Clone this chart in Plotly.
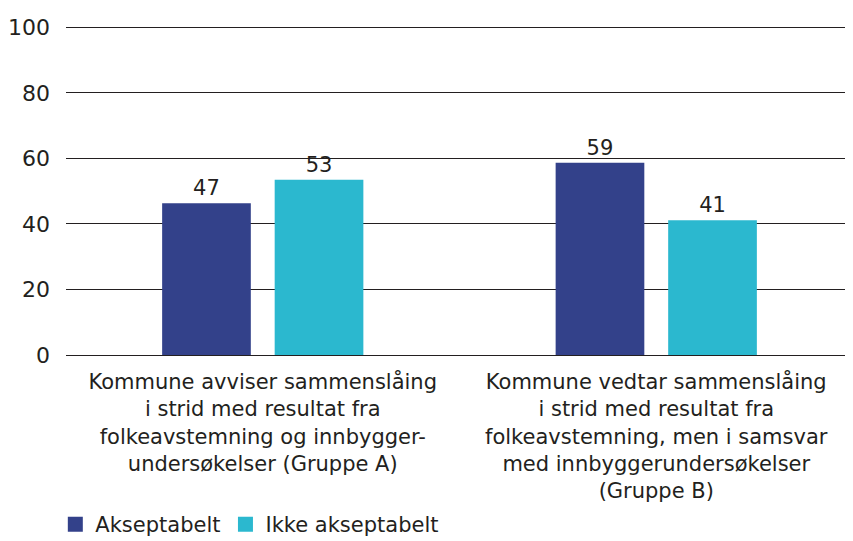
import plotly.graph_objects as go

categories = [
    "Kommune avviser sammenslåing<br>i strid med resultat fra<br>folkeavstemning og innbygger-<br>undersøkelser (Gruppe A)",
    "Kommune vedtar sammenslåing<br>i strid med resultat fra<br>folkeavstemning, men i samsvar<br>med innbyggerundersøkelser<br>(Gruppe B)",
]
series_names = ["Akseptabelt", "Ikke akseptabelt"]
akseptabelt = [46.3, 58.7]
ikke_akseptabelt = [53.5, 41.1]
akseptabelt_labels = ["47", "59"]
ikke_akseptabelt_labels = ["53", "41"]
y_ticks = [0, 20, 40, 60, 80, 100]

colors = ["#33418A", "#2BB8CF"]
text_color = "#231F20"
font_family = "DejaVu Sans, sans-serif"

fig = go.Figure()
for name, vals, labels, col in [
    (series_names[0], akseptabelt, akseptabelt_labels, colors[0]),
    (series_names[1], ikke_akseptabelt, ikke_akseptabelt_labels, colors[1]),
]:
    fig.add_trace(go.Bar(
        x=categories, y=vals, name=name, text=labels,
        textposition="outside", texttemplate="%{text}",
        textfont=dict(size=21, color=text_color, family=font_family),
        marker=dict(color=col, line=dict(width=0)),
        showlegend=False, cliponaxis=False,
    ))
    fig.add_trace(go.Scatter(
        x=[None], y=[None], mode="markers", name=name,
        marker=dict(symbol="square", size=15, color=col),
        showlegend=True,
    ))

# page body has an 8px margin, so the figure is 8px smaller and offset
fig.update_layout(
    width=845, height=533,
    margin=dict(l=55, r=0, t=16, b=185.5),
    paper_bgcolor="white", plot_bgcolor="white",
    font=dict(family=font_family, size=21, color=text_color),
    barmode="group", bargap=0.428, bargroupgap=0.212,
    legend=dict(
        orientation="h", xref="container", yref="container",
        x=0.056, y=0.031, xanchor="left", yanchor="middle",
        font=dict(size=21, color=text_color), itemwidth=30,
        traceorder="normal",
    ),
)
fig.update_xaxes(
    showgrid=False, showline=False, ticks="", tickfont=dict(size=21, color=text_color),
    ticklabelstandoff=12,
)
fig.update_yaxes(
    range=[0, 101], tickvals=y_ticks, showgrid=True, gridcolor="#231F20", gridwidth=1.3,
    zeroline=True, zerolinecolor="#231F20", zerolinewidth=1.3,
    showline=False, ticks="", ticklabelstandoff=15,
    tickfont=dict(size=22, color=text_color),
)

fig.write_html("out.html")
